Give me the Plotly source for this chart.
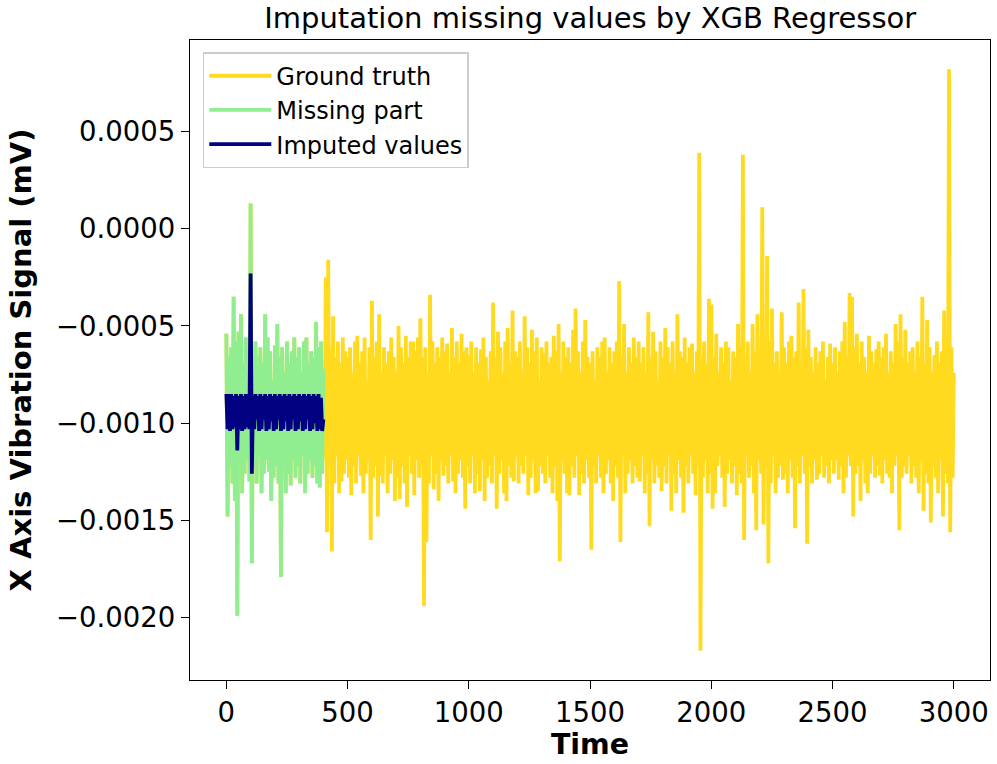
import plotly.graph_objects as go

# time axis, sampled every 5 steps
time = list(range(0, 3001, 5))

ground_truth = [
    # 0-95
    -0.00054, -0.00148, -0.00066, -0.00122, -0.00061, -0.00131, -0.00035, -0.00140, -0.00058, -0.00199,
    -0.00053, -0.00117, -0.00044, -0.00136, -0.00069, -0.00126, -0.00056, -0.00119, -0.00063, -0.00130,
    # 100-195
    0.00013, -0.00172, -0.00074, -0.00122, -0.00058, -0.00131, -0.00066, -0.00117, -0.00061, -0.00136,
    -0.00069, -0.00126, -0.00044, -0.00119, -0.00056, -0.00125, -0.00063, -0.00140, -0.00078, -0.00128,
    # 200-295
    -0.00060, -0.00122, -0.00049, -0.00131, -0.00066, -0.00179, -0.00061, -0.00117, -0.00074, -0.00136,
    -0.00058, -0.00126, -0.00069, -0.00132, -0.00063, -0.00119, -0.00056, -0.00128, -0.00066, -0.00122,
    # 300-395
    -0.00061, -0.00131, -0.00074, -0.00117, -0.00058, -0.00136, -0.00056, -0.00126, -0.00069, -0.00119,
    -0.00063, -0.00128, -0.00066, -0.00122, -0.00048, -0.00131, -0.00061, -0.00133, -0.00058, -0.00126,
    # 400-495
    -0.00072, -0.00118, -0.00025, -0.00156, -0.00016, -0.00122, -0.00061, -0.00166, -0.00045, -0.00131,
    -0.00066, -0.00117, -0.00058, -0.00136, -0.00069, -0.00130, -0.00056, -0.00126, -0.00063, -0.00119,
    # 500-595
    -0.00066, -0.00128, -0.00061, -0.00137, -0.00074, -0.00122, -0.00058, -0.00131, -0.00055, -0.00117,
    -0.00069, -0.00127, -0.00063, -0.00136, -0.00056, -0.00126, -0.00078, -0.00119, -0.00061, -0.00160,
    # 600-695
    -0.00037, -0.00128, -0.00066, -0.00122, -0.00058, -0.00148, -0.00044, -0.00127, -0.00074, -0.00131,
    -0.00061, -0.00117, -0.00069, -0.00136, -0.00063, -0.00126, -0.00056, -0.00119, -0.00066, -0.00140,
    # 700-795
    -0.00074, -0.00128, -0.00050, -0.00139, -0.00061, -0.00122, -0.00069, -0.00131, -0.00055, -0.00143,
    -0.00066, -0.00117, -0.00058, -0.00126, -0.00058, -0.00137, -0.00063, -0.00119, -0.00056, -0.00128,
    # 800-895
    -0.00046, -0.00122, -0.00066, -0.00194, -0.00061, -0.00161, -0.00074, -0.00131, -0.00034, -0.00117,
    -0.00058, -0.00134, -0.00069, -0.00126, -0.00061, -0.00140, -0.00066, -0.00119, -0.00056, -0.00127,
    # 900-995
    -0.00063, -0.00122, -0.00059, -0.00131, -0.00074, -0.00117, -0.00051, -0.00130, -0.00066, -0.00136,
    -0.00058, -0.00126, -0.00069, -0.00119, -0.00054, -0.00128, -0.00063, -0.00144, -0.00061, -0.00122,
    # 1000-1095
    -0.00065, -0.00131, -0.00058, -0.00117, -0.00074, -0.00136, -0.00061, -0.00126, -0.00069, -0.00135,
    -0.00062, -0.00119, -0.00056, -0.00140, -0.00066, -0.00128, -0.00078, -0.00122, -0.00063, -0.00131,
    # 1100-1195
    -0.00038, -0.00117, -0.00066, -0.00144, -0.00053, -0.00126, -0.00061, -0.00119, -0.00074, -0.00136,
    -0.00058, -0.00140, -0.00051, -0.00122, -0.00069, -0.00128, -0.00042, -0.00130, -0.00063, -0.00117,
    # 1200-1295
    -0.00066, -0.00131, -0.00058, -0.00122, -0.00074, -0.00126, -0.00045, -0.00117, -0.00061, -0.00137,
    -0.00069, -0.00128, -0.00052, -0.00119, -0.00063, -0.00136, -0.00056, -0.00135, -0.00078, -0.00122,
    # 1300-1395
    -0.00061, -0.00126, -0.00064, -0.00131, -0.00058, -0.00117, -0.00069, -0.00128, -0.00066, -0.00136,
    -0.00055, -0.00122, -0.00063, -0.00140, -0.00049, -0.00171, -0.00074, -0.00119, -0.00058, -0.00126,
    # 1400-1495
    -0.00066, -0.00136, -0.00061, -0.00137, -0.00069, -0.00122, -0.00052, -0.00128, -0.00041, -0.00117,
    -0.00063, -0.00137, -0.00074, -0.00126, -0.00058, -0.00131, -0.00047, -0.00119, -0.00066, -0.00128,
    # 1500-1595
    -0.00069, -0.00165, -0.00063, -0.00122, -0.00078, -0.00131, -0.00061, -0.00117, -0.00066, -0.00128,
    -0.00058, -0.00136, -0.00056, -0.00126, -0.00074, -0.00119, -0.00061, -0.00131, -0.00069, -0.00140,
    # 1600-1695
    -0.00063, -0.00122, -0.00058, -0.00128, -0.00027, -0.00161, -0.00066, -0.00117, -0.00049, -0.00136,
    -0.00074, -0.00126, -0.00061, -0.00119, -0.00069, -0.00131, -0.00056, -0.00122, -0.00066, -0.00128,
    # 1700-1795
    -0.00058, -0.00130, -0.00069, -0.00117, -0.00061, -0.00136, -0.00074, -0.00126, -0.00043, -0.00153,
    -0.00066, -0.00119, -0.00053, -0.00131, -0.00063, -0.00122, -0.00078, -0.00128, -0.00058, -0.00135,
    # 1800-1895
    -0.00066, -0.00122, -0.00051, -0.00131, -0.00061, -0.00117, -0.00069, -0.00145, -0.00058, -0.00126,
    -0.00074, -0.00136, -0.00044, -0.00119, -0.00063, -0.00128, -0.00066, -0.00146, -0.00056, -0.00122,
    # 1900-1995
    -0.00069, -0.00131, -0.00061, -0.00117, -0.00059, -0.00126, -0.00074, -0.00137, -0.00063, -0.00122,
    0.00039, -0.00217, -0.00066, -0.00128, -0.00058, -0.00119, -0.00069, -0.00136, -0.00036, -0.00126,
    # 2000-2095
    -0.00039, -0.00144, -0.00066, -0.00136, -0.00054, -0.00122, -0.00074, -0.00117, -0.00061, -0.00128,
    -0.00069, -0.00143, -0.00058, -0.00126, -0.00061, -0.00119, -0.00078, -0.00131, -0.00063, -0.00122,
    # 2100-2195
    -0.00066, -0.00137, -0.00049, -0.00126, -0.00061, -0.00131, 0.00038, -0.00160, -0.00069, -0.00117,
    -0.00058, -0.00128, -0.00074, -0.00122, -0.00049, -0.00136, -0.00063, -0.00155, -0.00044, -0.00119,
    # 2200-2295
    -0.00066, -0.00126, 0.00011, -0.00152, -0.00061, -0.00122, -0.00014, -0.00172, -0.00058, -0.00131,
    -0.00041, -0.00117, -0.00069, -0.00136, -0.00063, -0.00128, -0.00074, -0.00122, -0.00043, -0.00129,
    # 2300-2395
    -0.00061, -0.00126, -0.00069, -0.00136, -0.00058, -0.00119, -0.00055, -0.00128, -0.00066, -0.00154,
    -0.00063, -0.00122, -0.00038, -0.00131, -0.00074, -0.00117, -0.00031, -0.00126, -0.00061, -0.00162,
    # 2400-2495
    -0.00052, -0.00122, -0.00066, -0.00131, -0.00074, -0.00119, -0.00061, -0.00129, -0.00069, -0.00126,
    -0.00063, -0.00117, -0.00058, -0.00128, -0.00078, -0.00122, -0.00066, -0.00131, -0.00059, -0.00119,
    # 2500-2595
    -0.00069, -0.00126, -0.00061, -0.00119, -0.00074, -0.00129, -0.00063, -0.00122, -0.00058, -0.00136,
    -0.00048, -0.00128, -0.00066, -0.00117, -0.00033, -0.00122, -0.00035, -0.00148, -0.00061, -0.00126,
    # 2600-2695
    -0.00054, -0.00122, -0.00069, -0.00140, -0.00058, -0.00119, -0.00066, -0.00131, -0.00074, -0.00136,
    -0.00055, -0.00126, -0.00063, -0.00117, -0.00069, -0.00128, -0.00062, -0.00122, -0.00058, -0.00127,
    # 2700-2795
    -0.00066, -0.00131, -0.00061, -0.00119, -0.00054, -0.00126, -0.00074, -0.00128, -0.00063, -0.00136,
    -0.00069, -0.00122, -0.00049, -0.00117, -0.00058, -0.00155, -0.00044, -0.00128, -0.00066, -0.00122,
    # 2800-2895
    -0.00052, -0.00126, -0.00069, -0.00117, -0.00063, -0.00131, -0.00061, -0.00122, -0.00074, -0.00128,
    -0.00058, -0.00136, -0.00066, -0.00119, -0.00035, -0.00145, -0.00069, -0.00126, -0.00047, -0.00131,
    # 2900-2995
    -0.00061, -0.00151, -0.00074, -0.00122, -0.00065, -0.00128, -0.00058, -0.00136, -0.00069, -0.00119,
    -0.00063, -0.00148, -0.00042, -0.00126, -0.00066, -0.00131, 0.00082, -0.00156, -0.00061, -0.00128,
    # 3000
    -0.00074,
]

# the missing part is the ground truth over time 0-400
n_missing = 81
missing_time = time[:n_missing]
missing_part = ground_truth[:n_missing]

# XGB-imputed values over the missing window (time 0-400, every 5 steps)
imputed_values = [
    -0.00085, -0.00103, -0.00085, -0.00104, -0.00085, -0.00103, -0.00086, -0.00102, -0.00085, -0.00114,
    -0.00086, -0.00103, -0.00085, -0.00104, -0.00086, -0.00103, -0.00085, -0.00102, -0.00086, -0.00103,
    -0.00023, -0.00126, -0.00086, -0.00103, -0.00085, -0.00098, -0.00086, -0.00104, -0.00085, -0.00103,
    -0.00086, -0.00098, -0.00085, -0.00104, -0.00086, -0.00103, -0.00085, -0.00099, -0.00086, -0.00104,
    -0.00085, -0.00103, -0.00086, -0.00098, -0.00085, -0.00104, -0.00086, -0.00103, -0.00085, -0.00099,
    -0.00086, -0.00104, -0.00085, -0.00103, -0.00086, -0.00098, -0.00085, -0.00104, -0.00086, -0.00103,
    -0.00085, -0.00099, -0.00086, -0.00104, -0.00085, -0.00103, -0.00086, -0.00098, -0.00085, -0.00104,
    -0.00086, -0.00103, -0.00085, -0.00100, -0.00086, -0.00104, -0.00085, -0.00103, -0.00087, -0.00104,
    -0.00098,
]

assert len(ground_truth) == len(time)
assert len(imputed_values) == n_missing

y_ticks = [-0.0020, -0.0015, -0.0010, -0.0005, 0.0000, 0.0005]
x_ticks = [0, 500, 1000, 1500, 2000, 2500, 3000]

FONT = "DejaVu Sans"

fig = go.Figure()
fig.add_trace(go.Scatter(x=time, y=ground_truth, mode="lines", name="Ground truth",
                         line=dict(color="#FFDA1F", width=3.8)))
fig.add_trace(go.Scatter(x=missing_time, y=missing_part, mode="lines", name="Missing part",
                         line=dict(color="#90EE90", width=3.8)))
fig.add_trace(go.Scatter(x=missing_time, y=imputed_values, mode="lines", name="Imputed values",
                         line=dict(color="#000080", width=3.8)))

axis_common = dict(showline=True, linecolor="black", linewidth=1.3, mirror=True,
                   showgrid=False, zeroline=False, ticks="outside", ticklen=8,
                   tickwidth=1.3, tickcolor="black",
                   tickfont=dict(family=FONT, size=27.5, color="black"))

fig.update_layout(
    width=997, height=764,
    margin=dict(l=190, r=7, t=40, b=84),
    paper_bgcolor="white", plot_bgcolor="white",
    font=dict(family=FONT, color="black"),
    title=dict(text="Imputation missing values by XGB Regressor",
               font=dict(family=FONT, size=29, color="black"),
               x=0.592, xanchor="center", y=0.977, yanchor="middle", yref="container"),
    xaxis=dict(range=[-150, 3149], tickvals=x_ticks,
               title=dict(text="<b>Time</b>", font=dict(family=FONT, size=28.5, color="black"),
                          standoff=4),
               **axis_common),
    yaxis=dict(range=[-0.00232, 0.00097], tickvals=y_ticks, tickformat=".4f",
               title=dict(text="<b>X Axis Vibration Signal (mV)</b>",
                          font=dict(family=FONT, size=29, color="black"), standoff=15),
               **axis_common),
    legend=dict(x=0.016, y=0.981, xanchor="left", yanchor="top",
                bgcolor="rgba(255,255,255,0.85)", bordercolor="#CCCCCC", borderwidth=1.5,
                font=dict(family=FONT, size=24, color="black"), itemwidth=62,
                traceorder="normal"),
    showlegend=True,
)

fig.write_html("out.html")
